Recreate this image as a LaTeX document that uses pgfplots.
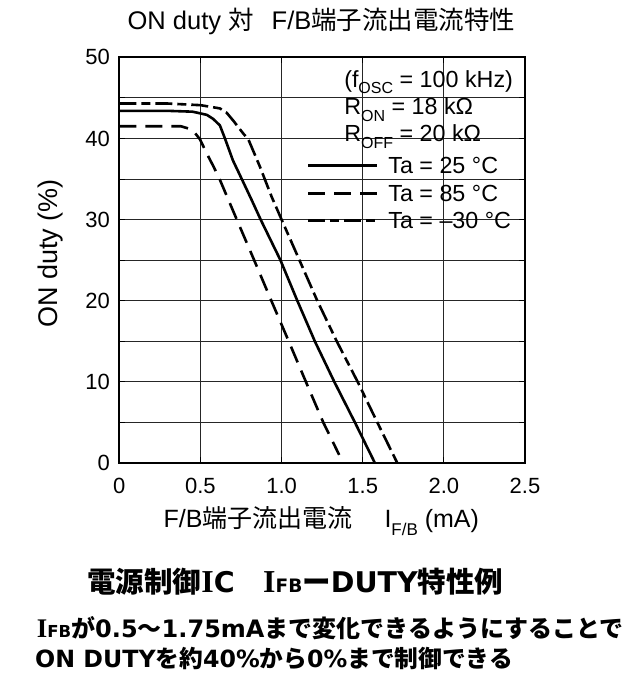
\documentclass[border=0pt]{standalone}
\usepackage{fontspec}
\setmainfont{Liberation Sans}
\newfontfamily\cjk{Noto Sans CJK JP}
\newfontfamily\dvs{DejaVu Sans}
\newfontfamily\lserif{Liberation Serif}
\usepackage{pgfplots}
\pgfplotsset{compat=1.18}
\pgfdeclarelayer{boxlayer}
\pgfplotsset{
  layers/mylayers/.define layer set={axis background,axis grid,boxlayer,axis ticks,main,axis lines,axis tick labels,axis descriptions,axis foreground}{},
}
\newcommand{\Lt}[1]{{\dvs\bfseries #1}}
\newcommand{\SI}{{\lserif\bfseries\addfontfeatures{Scale=1.12}I}}
\begin{document}
\begin{tikzpicture}
\begin{axis}[
  set layers=mylayers,
  at={(0pt,0pt)}, anchor=south west,
  width=405.7pt, height=405.7pt, scale only axis,
  xmin=0, xmax=2.5, ymin=0, ymax=50,
  xtick={0,0.5,1,1.5,2,2.5},
  xticklabels={0,0.5,1.0,1.5,2.0,2.5},
  ytick={0,10,20,30,40,50},
  minor ytick={5,15,25,35,45},
  grid=both,
  major grid style={black!85, line width=0.8pt},
  minor grid style={black!85, line width=0.8pt},
  tick align=inside,
  major tick length=6pt, minor tick length=6pt,
  tick style={black, line width=0.8pt},
  axis line style={black, line width=2pt},
  /pgf/number format/assume math mode=true,
  tick label style={font=\fontsize{22}{22}\selectfont, black},
  xticklabel style={yshift=-12pt},
  yticklabel style={xshift=-6pt},
]
% white box behind the parameter text and legend (covers the grid only)
\addplot[draw=none, fill=white, on layer=boxlayer, forget plot] coordinates
  {(1.113,28.1) (2.5,28.1) (2.5,50) (1.35,50) (1.35,38.8) (1.113,38.8)};

% Ta = 25 C (solid)
\addplot[black, line width=2.6pt, line join=round] coordinates {
(0,43.4) (0.3,43.4) (0.45,43.3) (0.497,43.1) (0.54,42.9) (0.579,42.4) (0.62,41.6)
(0.651,40.0) (0.70,37.3) (0.757,34.9) (0.816,32.4) (0.871,30.0)
(0.993,25.0) (1.097,20.0) (1.205,15.0) (1.325,10.0) (1.452,5.0) (1.575,0)};

% Ta = 85 C (long dashes)
\addplot[black, line width=2.6pt, line join=round, dash pattern=on 17pt off 9pt] coordinates {
(0,41.5) (0.38,41.5) (0.43,41.2) (0.465,40.7) (0.497,39.9) (0.54,38.1)
(0.579,36.6) (0.62,34.9) (0.724,30.0) (0.831,25.0) (0.937,20.0) (1.044,15.0)
(1.15,10.0) (1.257,5.0) (1.355,1.0)};

% Ta = -30 C (dash / short dash)
\addplot[black, line width=2.6pt, line join=round, dash pattern=on 17pt off 5pt on 9pt off 5pt] coordinates {
(0,44.3) (0.3,44.3) (0.5,44.1) (0.62,43.7) (0.66,43.2) (0.702,42.2) (0.764,40.6)
(0.795,39.9) (0.867,36.5) (0.898,34.9) (0.939,32.8) (1.0,30.0) (1.11,25.0) (1.22,20.0)
(1.34,15.0) (1.469,10.0) (1.59,5.0) (1.713,0)};

% legend samples
\addplot[black, line width=2.6pt, forget plot] coordinates {(1.165,36.7) (1.586,36.7)};
\addplot[black, line width=2.6pt, dash pattern=on 17pt off 9pt, forget plot] coordinates {(1.165,33.2) (1.586,33.2)};
\addplot[black, line width=2.6pt, dash pattern=on 17pt off 5pt on 9pt off 5pt, forget plot] coordinates {(1.165,29.9) (1.586,29.9)};

\node[anchor=base west, inner sep=0pt, font=\fontsize{23.3}{23.3}\selectfont] at (axis cs:1.657,35.7) {Ta = 25 °C};
\node[anchor=base west, inner sep=0pt, font=\fontsize{23.3}{23.3}\selectfont] at (axis cs:1.657,32.2) {Ta = 85 °C};
\node[anchor=base west, inner sep=0pt, font=\fontsize{23.3}{23.3}\selectfont] at (axis cs:1.657,28.9) {Ta = –30 °C};

\node[anchor=base west, inner sep=0pt, font=\fontsize{23.3}{23.3}\selectfont] at (axis cs:1.385,46.3) {(f\raisebox{-0.28em}{\fontsize{16}{16}\selectfont OSC} = 100 kHz)};
\node[anchor=base west, inner sep=0pt, font=\fontsize{23.3}{23.3}\selectfont] at (axis cs:1.385,42.9) {R\raisebox{-0.28em}{\fontsize{16}{16}\selectfont ON} = 18 kΩ};
\node[anchor=base west, inner sep=0pt, font=\fontsize{23.3}{23.3}\selectfont] at (axis cs:1.385,39.6) {R\raisebox{-0.28em}{\fontsize{16}{16}\selectfont OFF} = 20 kΩ};
\end{axis}

% title
\node[font=\fontsize{25.5}{25.5}\selectfont] at (202.2pt,442pt) {ON duty {\cjk 対}\hspace{18pt}F/B{\cjk 端子流出電流特性}};
% axis labels
\node[font=\fontsize{25}{25}\selectfont] at (202pt,-58pt) {F/B{\cjk 端子流出電流}\hspace{32pt}I\raisebox{-0.3em}{\fontsize{17}{17}\selectfont F/B} (mA)};
\node[rotate=90, font=\fontsize{27}{27}\selectfont] at (-69pt,209.5pt) {ON duty (\%)};

% caption text below the chart
\node[inner sep=0pt, font=\cjk\bfseries\fontsize{28.5}{28.5}\selectfont] at (176pt,-118.5pt)
  {電源制御\SI\Lt{C}　\SI{\dvs\bfseries\fontsize{18.5}{18.5}\selectfont FB}ー\Lt{DUTY}特性例};
\node[anchor=west, inner sep=0pt, font=\cjk\bfseries\fontsize{24}{24}\selectfont] at (-82.6pt,-165pt)
  {\SI{\dvs\bfseries\fontsize{16.5}{16.5}\selectfont FB}が\Lt{0.5}～\Lt{1.75mA}まで変化できるようにすることで};
\node[anchor=west, inner sep=0pt, font=\cjk\bfseries\fontsize{23.7}{23.7}\selectfont] at (-84.3pt,-196pt)
  {\Lt{ON DUTY}を約\Lt{40\%}から\Lt{0\%}まで制御できる};

\pgfresetboundingbox
\path[use as bounding box] (-119.3pt,-232pt) rectangle (513.7pt,463pt);
\end{tikzpicture}
\end{document}
